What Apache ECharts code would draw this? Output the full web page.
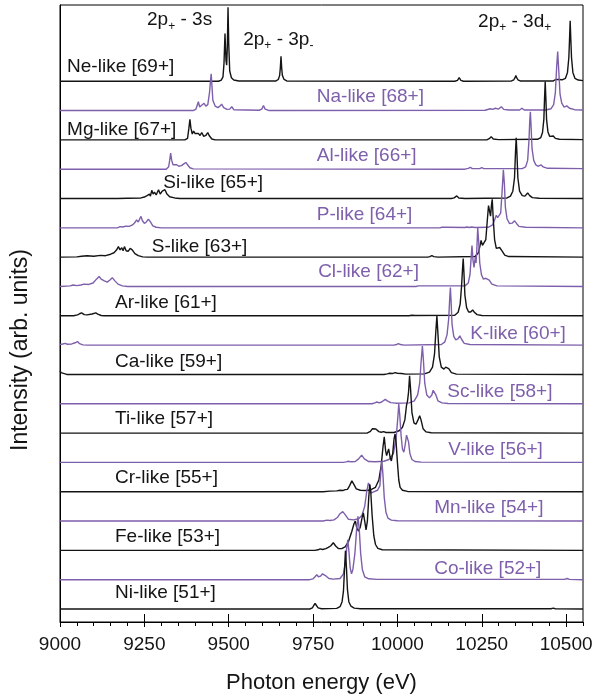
<!DOCTYPE html>
<html>
<head>
<meta charset="utf-8">
<script src="https://cdn.jsdelivr.net/npm/echarts@6/dist/echarts.min.js"></script>
<style>
  html, body { margin: 0; padding: 0; background: #ffffff; }
  #chart { width: 604px; height: 700px; }
</style>
</head>
<body>
<div id="chart"></div>
<script>
// Photon-energy axis ticks (eV)
const majorTicks = [9000, 9250, 9500, 9750, 10000, 10250, 10500];
const minorTicks = [9000, 9050, 9100, 9150, 9200, 9250, 9300, 9350, 9400, 9450, 9500,
  9550, 9600, 9650, 9700, 9750, 9800, 9850, 9900, 9950, 10000, 10050, 10100, 10150,
  10200, 10250, 10300, 10350, 10400, 10450, 10500, 10550];

// Isoelectronic sequence, top trace first
const ionNames = ['Ne-like [69+]', 'Na-like [68+]', 'Mg-like [67+]', 'Al-like [66+]',
  'Si-like [65+]', 'P-like [64+]', 'S-like [63+]', 'Cl-like [62+]', 'Ar-like [61+]',
  'K-like [60+]', 'Ca-like [59+]', 'Sc-like [58+]', 'Ti-like [57+]', 'V-like [56+]',
  'Cr-like [55+]', 'Mn-like [54+]', 'Fe-like [53+]', 'Co-like [52+]', 'Ni-like [51+]'];

// Spectra: [photon energy (eV), intensity (arb. units)]
const neLike = [[9000,0],[9470,0],[9478,0.04],[9483,0.15],[9486,0.6],[9489,1.63],[9492,0.7],[9494,0.55],[9496,1.2],[9498,2.52],[9500,1.3],[9503,0.35],[9508,0.12],[9515,0.04],[9530,0.01],
  [9640,0.01],[9647,0.06],[9651,0.2],[9653,0.45],[9655,0.85],[9657,0.45],[9659,0.2],[9664,0.06],[9672,0.01],
  [10170,0],[10178,0.03],[10183,0.12],[10188,0.03],[10196,0],
  [10338,0.01],[10345,0.05],[10349,0.13],[10351,0.2],[10353,0.13],[10357,0.05],[10364,0.01],
  [10462,0.01],[10469,0.06],[10473,0.1],[10477,0.06],[10488,0.05],[10498,0.1],[10504,0.3],[10508,0.8],[10510,1.4],[10512,2.06],[10514,1.4],[10516,0.8],[10520,0.3],[10526,0.1],[10536,0.04],[10550,0.02]];
const naLike = [[9000,0],[9395,0],[9403,0.05],[9410,0.3],[9414,0.12],[9420,0.18],[9427,0.25],[9432,0.15],[9438,0.2],[9443,0.6],[9446,1.0],[9448,1.25],[9450,0.9],[9453,0.35],[9460,0.15],[9468,0.1],[9474,0.15],[9479,0.22],[9485,0.1],[9495,0.04],[9503,0.05],[9509,0.13],[9515,0.03],
  [9590,0.01],[9598,0.05],[9603,0.17],[9608,0.05],[9620,0],
  [10260,0.01],[10275,0.06],[10283,0.04],[10290,0.08],[10300,0.05],[10308,0.13],[10315,0.04],[10330,0.02],[10362,0.02],[10369,0.08],[10376,0.02],
  [10440,0.02],[10455,0.06],[10463,0.2],[10468,0.6],[10472,1.5],[10475,2.01],[10478,1.4],[10482,0.55],[10487,0.25],[10494,0.12],[10502,0.16],[10510,0.08],[10525,0.03],[10550,0.02]];
const mgLike = [[9000,0],[9370,0],[9378,0.05],[9382,0.4],[9385,0.7],[9388,0.4],[9392,0.2],[9396,0.3],[9400,0.22],[9405,0.18],[9410,0.22],[9415,0.15],[9420,0.25],[9426,0.12],[9432,0.15],[9438,0.25],[9442,0.15],[9450,0.03],[9460,0],
  [10265,0],[10272,0.04],[10278,0.11],[10284,0.03],[10300,0.01],
  [10415,0.02],[10425,0.08],[10430,0.25],[10434,0.7],[10436,1.4],[10438,1.99],[10440,1.4],[10442,0.7],[10446,0.28],[10451,0.12],[10456,0.1],[10462,0.13],[10468,0.05],[10480,0.02],[10550,0.01]];
const alLike = [[9000,0],[9315,0],[9322,0.08],[9325,0.3],[9328,0.55],[9331,0.3],[9335,0.15],[9340,0.12],[9346,0.15],[9352,0.1],[9360,0.12],[9367,0.18],[9373,0.23],[9378,0.15],[9385,0.05],[9395,0.01],
  [10200,0],[10210,0.03],[10216,0.06],[10222,0.02],[10244,0.02],[10250,0.05],[10256,0.02],
  [10370,0.02],[10380,0.08],[10386,0.3],[10390,1.0],[10392,1.6],[10394,1.96],[10396,1.5],[10399,0.7],[10404,0.3],[10410,0.15],[10418,0.1],[10425,0.15],[10432,0.08],[10445,0.03],[10550,0.02]];
const siLike = [[9000,0],[9170,0],[9200,0.01],[9240,0.02],[9250,0.05],[9258,0.1],[9265,0.15],[9268,0.08],[9272,0.28],[9276,0.15],[9280,0.22],[9285,0.12],[9292,0.3],[9297,0.15],[9303,0.25],[9307,0.2],[9311,0.3],[9317,0.15],[9325,0.06],[9340,0.02],[9355,0],
  [10160,0],[10168,0.02],[10176,0.09],[10182,0.02],[10200,0],
  [10325,0.02],[10335,0.08],[10342,0.25],[10347,0.7],[10350,1.6],[10352,2.07],[10354,1.6],[10357,0.7],[10362,0.25],[10370,0.1],[10378,0.08],[10386,0.19],[10392,0.1],[10400,0.03],[10420,0.01],[10550,0]];
const pLike = [[9000,0],[9170,0],[9178,0.04],[9186,0.03],[9195,0.06],[9205,0.05],[9215,0.1],[9222,0.18],[9227,0.27],[9232,0.2],[9236,0.3],[9240,0.39],[9244,0.25],[9250,0.15],[9256,0.2],[9262,0.3],[9268,0.2],[9275,0.07],[9285,0.02],[9300,0],
  [10125,0],[10132,0.02],[10137,0.05],[10145,0.02],[10200,0.01],[10206,0.03],[10213,0.01],[10220,0.03],[10230,0.01],
  [10270,0.02],[10282,0.1],[10289,0.3],[10293,0.43],[10297,0.35],[10301,0.3],[10306,0.5],[10310,1.2],[10314,1.98],[10317,1.5],[10320,0.7],[10325,0.3],[10332,0.15],[10340,0.16],[10347,0.24],[10353,0.15],[10360,0.05],[10380,0.02],[10550,0]];
const sLike = [[9000,0],[9050,0.01],[9064,0.03],[9080,0.05],[9100,0.03],[9120,0.06],[9135,0.05],[9150,0.1],[9160,0.15],[9168,0.25],[9173,0.36],[9178,0.25],[9183,0.32],[9187,0.22],[9191,0.36],[9196,0.22],[9202,0.2],[9208,0.3],[9214,0.25],[9222,0.12],[9232,0.05],[9245,0.01],[9260,0],
  [10090,0],[10096,0.02],[10102,0.05],[10108,0.02],[10120,0],
  [10230,0.02],[10240,0.15],[10245,0.4],[10248,0.57],[10252,0.4],[10257,0.35],[10262,0.6],[10266,1.2],[10270,1.76],[10273,1.7],[10276,1.4],[10279,1.8],[10281,1.97],[10284,1.3],[10288,0.6],[10293,0.3],[10298,0.25],[10303,0.33],[10306,0.34],[10311,0.2],[10318,0.07],[10330,0.02],[10550,0]];
const clLike = [[9000,0],[9030,0.02],[9039,0.05],[9050,0.03],[9062,0.05],[9071,0.08],[9085,0.07],[9098,0.12],[9108,0.25],[9116,0.34],[9122,0.25],[9130,0.2],[9140,0.15],[9148,0.22],[9155,0.3],[9162,0.2],[9172,0.08],[9185,0.02],[9200,0],
  [10055,0],[10062,0.02],[10066,0.06],[10072,0.02],
  [10200,0.02],[10210,0.12],[10215,0.4],[10218,0.9],[10221,1.4],[10224,0.9],[10227,0.65],[10229,0.85],[10231,1.0],[10233,0.8],[10235,1.2],[10238,1.99],[10241,1.5],[10244,0.8],[10249,0.4],[10255,0.25],[10262,0.28],[10267,0.34],[10272,0.22],[10280,0.08],[10295,0.02],[10550,0]];
const arLike = [[9000,0],[9040,0],[9052,0.03],[9058,0.07],[9064,0.1],[9072,0.04],[9080,0.03],[9095,0.06],[9106,0.1],[9112,0.06],[9122,0.01],[9130,0],
  [10035,0],[10042,0.02],[10047,0.04],[10053,0.01],
  [10170,0.02],[10180,0.12],[10186,0.4],[10190,1.0],[10193,1.6],[10195,1.95],[10197,1.5],[10200,0.7],[10205,0.28],[10211,0.13],[10217,0.13],[10223,0.2],[10228,0.12],[10236,0.04],[10250,0.01],[10550,0]];
const kLike = [[9000,0.02],[9008,0.04],[9015,0.06],[9022,0.03],[9035,0.04],[9045,0.08],[9052,0.12],[9058,0.05],[9068,0.01],[9080,0],
  [9990,0],[9997,0.02],[10003,0.05],[10009,0.02],[10020,0],
  [10130,0.02],[10140,0.1],[10147,0.35],[10152,0.9],[10155,1.6],[10157,1.96],[10159,1.5],[10162,0.7],[10167,0.3],[10173,0.18],[10180,0.22],[10185,0.32],[10190,0.2],[10198,0.06],[10215,0.02],[10550,0]];
const caLike = [[9000,0.13],[9003,0.06],[9008,0.02],[9020,0],
  [9960,0],[9970,0.02],[9977,0.04],[9985,0.03],[9993,0.06],[10000,0.04],[10005,0.07],[10012,0.03],[10025,0.01],
  [10080,0.02],[10095,0.08],[10104,0.25],[10110,0.7],[10114,1.5],[10117,1.99],[10120,1.4],[10124,0.6],[10130,0.25],[10138,0.18],[10143,0.25],[10147,0.31],[10152,0.2],[10160,0.06],[10175,0.01],[10550,0]];
const scLike = [[9000,0],[9925,0],[9933,0.03],[9939,0.06],[9946,0.03],[9953,0.06],[9958,0.12],[9964,0.15],[9970,0.1],[9980,0.04],[9995,0.02],
  [10035,0.03],[10050,0.1],[10060,0.3],[10066,0.7],[10070,1.4],[10074,1.97],[10077,1.5],[10081,0.7],[10087,0.3],[10095,0.2],[10102,0.3],[10106,0.46],[10110,0.48],[10114,0.3],[10120,0.1],[10132,0.03],[10150,0.01],[10550,0]];
const tiLike = [[9000,0],[9910,0],[9920,0.06],[9926,0.15],[9931,0.19],[9936,0.14],[9945,0.05],[9952,0.03],[9959,0.05],[9966,0.02],
  [9990,0.02],[10005,0.08],[10015,0.2],[10022,0.45],[10027,0.95],[10030,1.1],[10033,1.4],[10036,1.95],[10039,1.5],[10043,0.7],[10049,0.35],[10055,0.3],[10061,0.45],[10066,0.59],[10070,0.45],[10076,0.15],[10085,0.04],[10100,0.01],[10550,0]];
const vLike = [[9000,0],[9840,0],[9848,0.02],[9855,0.04],[9862,0.02],[9875,0.03],[9885,0.12],[9894,0.25],[9902,0.12],[9915,0.03],[9935,0.02],
  [9960,0.04],[9975,0.1],[9988,0.3],[9996,0.8],[10001,1.5],[10004,1.99],[10007,1.6],[10011,0.9],[10015,0.45],[10019,0.35],[10023,0.6],[10027,0.93],[10030,0.97],[10033,0.7],[10037,0.3],[10043,0.1],[10052,0.03],[10070,0.01],[10550,0]];
const crLike = [[9000,0],[9780,0],[9800,0.02],[9820,0.03],[9830,0.05],[9838,0.04],[9845,0.07],[9852,0.08],[9858,0.2],[9865,0.37],[9871,0.25],[9878,0.1],[9890,0.05],[9905,0.04],
  [9920,0.06],[9935,0.15],[9945,0.4],[9952,0.9],[9957,1.5],[9961,1.87],[9965,1.4],[9968,1.23],[9971,1.35],[9974,1.46],[9978,1.2],[9982,1.05],[9986,1.3],[9990,1.8],[9993,1.97],[9996,1.7],[10000,1.0],[10004,0.4],[10008,0.15],[10015,0.05],[10030,0.01],[10550,0]];
const mnLike = [[9000,0],[9780,0],[9791,0.03],[9800,0.02],[9812,0.04],[9822,0.12],[9830,0.25],[9838,0.32],[9845,0.22],[9855,0.06],[9870,0.04],
  [9885,0.08],[9895,0.2],[9903,0.5],[9909,1.0],[9914,1.3],[9918,1.2],[9922,0.95],[9926,0.9],[9931,1.0],[9936,0.95],[9941,1.05],[9944,1.1],[9948,1.2],[9951,1.7],[9954,2.05],[9957,1.6],[9961,0.8],[9966,0.3],[9972,0.1],[9982,0.03],[10000,0.01],[10550,0]];
const feLike = [[9000,0],[9755,0],[9765,0.02],[9771,0.05],[9778,0.03],[9788,0.06],[9795,0.1],[9802,0.15],[9810,0.26],[9817,0.15],[9825,0.06],[9835,0.06],
  [9845,0.12],[9855,0.3],[9865,0.65],[9871,0.9],[9875,1.0],[9880,0.75],[9885,0.66],[9890,0.8],[9895,1.1],[9899,1.28],[9903,1.0],[9907,0.7],[9911,1.0],[9915,1.8],[9918,2.25],[9921,2.0],[9925,1.2],[9930,0.5],[9935,0.2],[9942,0.07],[9955,0.02],[10550,0]];
const coLike = [[9000,0],[9740,0],[9750,0.03],[9756,0.1],[9761,0.17],[9766,0.1],[9772,0.12],[9778,0.2],[9783,0.23],[9789,0.12],[9797,0.04],[9810,0.02],
  [9830,0.04],[9840,0.2],[9846,0.6],[9850,1.1],[9853,1.36],[9856,1.0],[9860,0.4],[9864,0.2],[9868,0.35],[9874,0.9],[9879,1.7],[9883,2.16],[9887,1.7],[9891,0.9],[9896,0.35],[9903,0.1],[9915,0.03],[9940,0.01],
  [10495,0.01],[10503,0.04],[10510,0.01],[10550,0]];
const niLike = [[9000,0],[9740,0],[9748,0.04],[9752,0.12],[9756,0.19],[9760,0.12],[9765,0.04],[9775,0.01],
  [9820,0.02],[9830,0.08],[9836,0.25],[9840,0.6],[9843,1.3],[9846,1.99],[9849,1.4],[9852,0.65],[9856,0.25],[9862,0.1],[9872,0.03],[9890,0.01],
  [10455,0.01],[10462,0.03],[10468,0.01],[10550,0]];

const spectra = [neLike, naLike, mgLike, alLike, siLike, pLike, sLike, clLike, arLike,
  kLike, caLike, scLike, tiLike, vLike, crLike, mnLike, feLike, coLike, niLike];

// Label anchors: [energy of left edge (eV), height above the trace baseline]
const labelAnchors = [[9021,0.49],[9761,0.48],[9021,0.34],[9761,0.45],[9306,0.54],[9761,0.44],
  [9272,0.36],[9765,0.51],[9163,0.44],[10216,0.38],[9163,0.42],[10148,0.41],[9163,0.49],
  [10151,0.42],[9163,0.49],[10109,0.46],[9163,0.48],[10109,0.38],[9163,0.56]];

// Transition annotations: rich text, [energy (eV), y value]
const transitions = [
  { text: '2p{s|+} - 3s', at: [9258, 20.08] },
  { text: '2p{s|+} - 3p{s|-}', at: [9543, 19.43] },
  { text: '2p{s|+} - 3d{s|+}', at: [10239, 20.03] }
];

const BLACK = '#141414';
const PURPLE = '#7e5fab';
const FONT = '"Liberation Sans", Arial, Helvetica, sans-serif';
const nTraces = spectra.length;

const chart = echarts.init(document.getElementById('chart'), null, { renderer: 'canvas' });

const series = spectra.map((pts, i) => {
  const offset = nTraces - 1 - i;
  return {
    type: 'line',
    name: ionNames[i],
    xAxisIndex: 0,
    yAxisIndex: 0,
    showSymbol: false,
    symbol: 'none',
    silent: true,
    lineStyle: { width: 1.4, color: i % 2 === 0 ? BLACK : PURPLE },
    data: pts.map(p => [p[0], p[1] + offset])
  };
});

const xBase = { type: 'value', min: 9000, max: 10550, gridIndex: 0, position: 'bottom' };

chart.setOption({
  animation: false,
  backgroundColor: '#ffffff',
  grid: {
    left: 60, right: 21, top: 5, bottom: 78,
    show: true, borderColor: '#000000', borderWidth: 1, backgroundColor: 'transparent'
  },
  xAxis: [
    Object.assign({}, xBase, {
      name: 'Photon energy (eV)',
      nameLocation: 'middle',
      nameGap: 50,
      nameTextStyle: { fontFamily: FONT, fontSize: 22, color: BLACK },
      axisLine: { show: true, onZero: false, lineStyle: { color: '#000', width: 1 } },
      axisTick: { show: true, inside: false, length: 5, customValues: majorTicks, lineStyle: { color: '#000', width: 1 } },
      axisLabel: {
        show: true, customValues: majorTicks, margin: 13,
        fontFamily: FONT, fontSize: 19, color: BLACK,
        formatter: v => String(v)
      },
      splitLine: { show: false }
    }),
    Object.assign({}, xBase, {
      axisLine: { show: false, onZero: false },
      axisTick: { show: true, inside: true, length: 8, customValues: majorTicks, lineStyle: { color: '#000', width: 1 } },
      axisLabel: { show: false },
      splitLine: { show: false }
    }),
    Object.assign({}, xBase, {
      axisLine: { show: false, onZero: false },
      axisTick: { show: true, inside: false, length: 4, customValues: minorTicks, lineStyle: { color: '#000', width: 1 } },
      axisLabel: { show: false },
      splitLine: { show: false }
    })
  ],
  yAxis: {
    type: 'value',
    min: -0.443,
    max: 20.6,
    axisLine: { show: true, lineStyle: { color: '#000', width: 1 } },
    axisTick: { show: false },
    axisLabel: { show: false },
    splitLine: { show: false }
  },
  series: series
});

// Text placed in data coordinates
const graphics = [];
ionNames.forEach((name, i) => {
  const offset = nTraces - 1 - i;
  const pos = chart.convertToPixel({ gridIndex: 0 }, [labelAnchors[i][0], offset + labelAnchors[i][1]]);
  graphics.push({
    type: 'text',
    x: pos[0], y: pos[1],
    silent: true,
    z: 100,
    style: {
      text: name,
      fill: i % 2 === 0 ? BLACK : PURPLE,
      font: '19px ' + FONT,
      align: 'left',
      verticalAlign: 'middle'
    }
  });
});
transitions.forEach(t => {
  const pos = chart.convertToPixel({ gridIndex: 0 }, t.at);
  graphics.push({
    type: 'text',
    x: pos[0], y: pos[1],
    silent: true,
    z: 100,
    style: {
      text: t.text,
      fill: BLACK,
      fontFamily: FONT,
      fontSize: 19,
      lineHeight: 24,
      align: 'left',
      verticalAlign: 'middle',
      rich: {
        s: { fontFamily: FONT, fontSize: 12, lineHeight: 12, verticalAlign: 'bottom', fill: BLACK }
      }
    }
  });
});

// Vertical intensity title, left of the plot
graphics.push({
  type: 'text',
  left: 9,
  top: 'middle',
  silent: true,
  style: {
    text: 'Intensity (arb. units)',
    fill: BLACK,
    font: '23px ' + FONT,
    align: 'center',
    verticalAlign: 'middle'
  },
  rotation: Math.PI / 2,
  x: 22,
  y: 320
});
chart.setOption({ graphic: graphics });
</script>
</body>
</html>
